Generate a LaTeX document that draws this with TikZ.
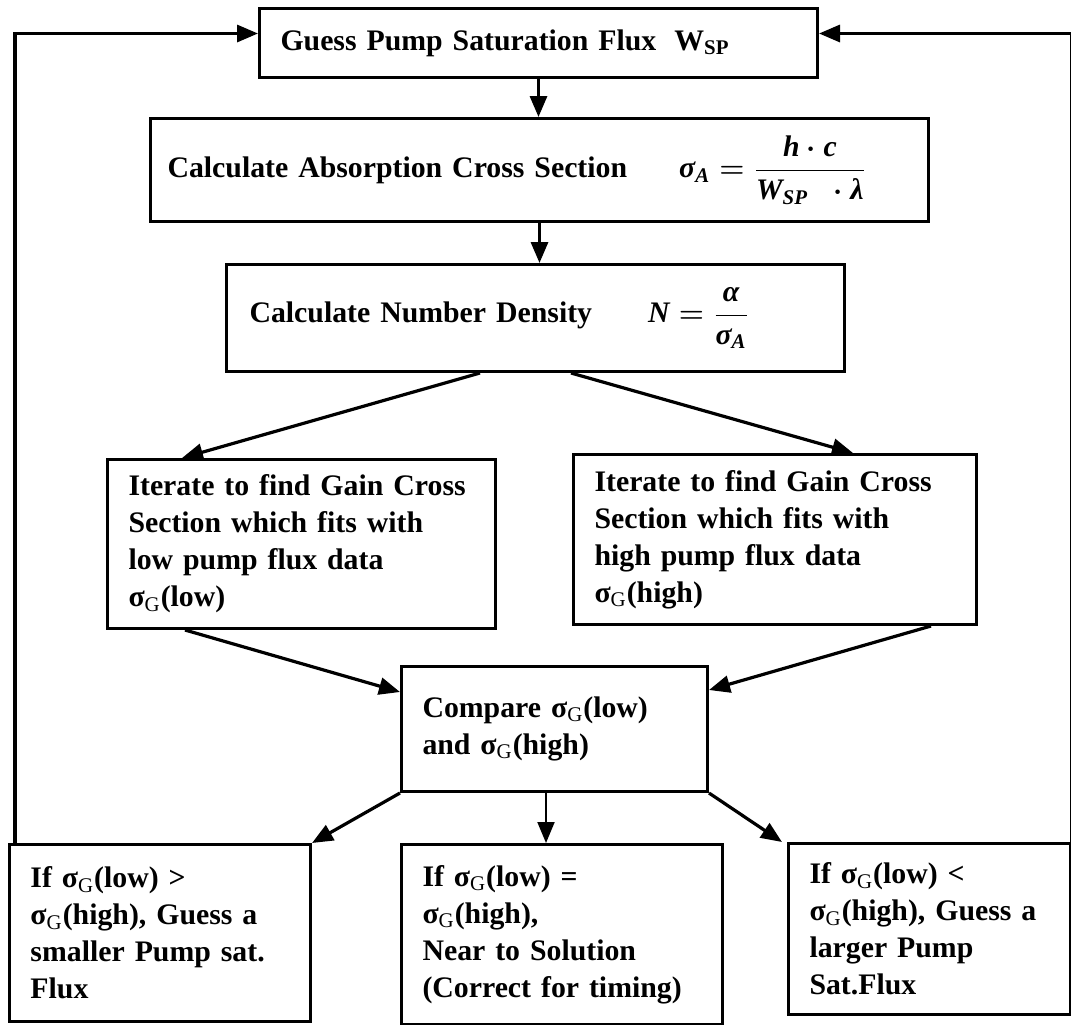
\documentclass[tikz,border=0pt]{standalone}
\usepackage{fontspec}
\setmainfont{Liberation Serif}
\usepackage{amsmath}
\usetikzlibrary{arrows.meta}

\newcommand{\itvar}[1]{\text{\itshape #1}}
\newcommand{\sigG}{σ\textsubscript{\mdseries G}}

\begin{document}
\begin{tikzpicture}[x=0.5pt,y=0.5pt,
  box/.style={draw,line width=1.5pt,anchor=north west,align=left,inner xsep=10.5pt,inner ysep=4pt,
    font=\bfseries\fontsize{14.9}{18.5}\selectfont},
  flow/.style={line width=1.6pt,-{Triangle[length=10.5pt,width=8.5pt]}}]
\useasboundingbox (0,0) rectangle (1071,-1024);

\node[box,text width=258pt,minimum height=34.5pt] at (258,-7) (guess) {Guess Pump Saturation Flux\hspace{9pt}W\textsubscript{SP}};
\node[box,inner xsep=8.5pt,text width=372pt,minimum height=51.5pt] at (149,-117) (absorb)
  {Calculate Absorption Cross Section\hspace{26pt}{\boldmath$\itvar{σ}_{\itvar{A}}=\dfrac{\itvar{h}\cdot\itvar{c}}{\itvar{W}_{\itvar{SP}}\;\;\cdot\itvar{λ}}$}};
\node[box,inner xsep=11.5pt,text width=286pt,minimum height=53.5pt] at (225,-263) (density)
  {Calculate Number Density\hspace{28pt}{\boldmath$\itvar{N}=\dfrac{\itvar{α}}{\itvar{σ}_{\itvar{A}}}$}};
\node[box,text width=173pt,minimum height=84.5pt] at (106,-458) (itlow) {Iterate to find Gain Cross\\Section which fits with\\low pump flux data\\\sigG(low)};
\node[box,text width=180.5pt,minimum height=85pt] at (572,-453) (ithigh) {Iterate to find Gain Cross\\Section which fits with\\high pump flux data\\\sigG(high)};
\node[box,text width=132pt,minimum height=62.5pt] at (400,-665) (compare) {Compare \sigG(low)\\and \sigG(high)\\[12pt]};
\node[box,text width=129.5pt,minimum height=88.5pt] at (8,-843) (ifgt) {If \sigG(low) >\\\sigG(high), Guess a\\smaller Pump sat.\\Flux};
\node[box,text width=139.5pt,minimum height=90pt] at (400,-843) (ifeq) {If \sigG(low) =\\\sigG(high),\\Near to Solution\\(Correct for timing)};
\node[box,text width=120pt,minimum height=85.5pt] at (787,-842) (iflt) {If \sigG(low) <\\\sigG(high), Guess a\\larger Pump\\Sat.Flux};

\coordinate (mid) at ([xshift=73pt]compare.south west);

\draw[flow] ([xshift=3.5pt]ifgt.north west) |- ([yshift=4.75pt]guess.west);
\draw[flow] (iflt.north east) |- ([yshift=4.75pt]guess.east);
\draw[flow] (guess.south) -- (guess.south |- absorb.north);
\draw[flow] (absorb.south) -- (absorb.south |- density.north);
\draw[flow] ([xshift=127.5pt]density.south west) -- ([xshift=38pt]itlow.north west);
\draw[flow] ([xshift=173pt]density.south west) -- ([xshift=140.5pt]ithigh.north west);
\draw[flow] ([xshift=39.5pt]itlow.south west) -- ([yshift=-13.5pt]compare.north west);
\draw[flow] ([xshift=179.5pt]ithigh.south west) -- ([yshift=-12.5pt]compare.north east);
\draw[flow] (compare.south west) -- (ifgt.north east);
\draw[flow,line width=1pt] (mid) -- (mid |- ifeq.north);
\draw[flow] (compare.south east) -- ([xshift=-2.5pt]iflt.north west);
\end{tikzpicture}
\end{document}
